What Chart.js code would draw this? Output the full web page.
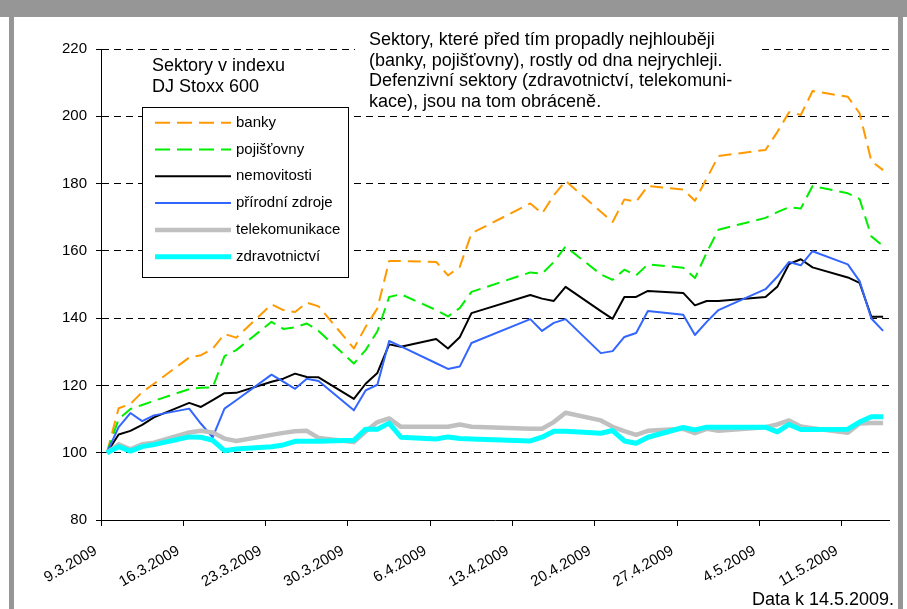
<!DOCTYPE html>
<html><head><meta charset="utf-8">
<script src="https://cdn.jsdelivr.net/npm/chart.js@4"></script>
<style>html,body{margin:0;padding:0;background:#fff}#wrap{width:907px;height:609px;position:relative}</style>
</head><body><div id="wrap"><canvas id="c" width="907" height="609"></canvas></div>
<script>
// trading days (day.month, year 2009)
const dates = ['9.3','10.3','11.3','12.3','13.3','16.3','17.3','18.3','19.3','20.3','23.3','24.3','25.3','26.3','27.3',
  '30.3','31.3','1.4','2.4','3.4','6.4','7.4','8.4','9.4','14.4','15.4','16.4','17.4','20.4','21.4','22.4','23.4','24.4',
  '27.4','28.4','29.4','30.4','4.5','5.5','6.5','7.5','8.5','11.5','12.5','13.5','14.5'];
const tickLabels = ['9.3.2009','16.3.2009','23.3.2009','30.3.2009','6.4.2009','13.4.2009','20.4.2009','27.4.2009','4.5.2009','11.5.2009'];
const seriesNames = ['banky','pojišťovny','nemovitosti','přírodní zdroje','telekomunikace','zdravotnictví'];
const banky = [100,113.2,114.5,118,120.5,128.3,129,130.9,135.3,134.2,144.1,142.4,141.8,144.6,143.5,
  131,137.4,142.9,157,157,156.7,152.7,155.2,165.2,174.1,171.1,176.5,180.8,171.6,168.6,175.3,174.6,179.3,
  178.2,174.9,181.5,188.2,190,195.3,201.2,200.4,207.5,205.8,200.9,186.7,184];
const pojistovny = [100,110,113,114.2,115.4,118.9,119.3,119.4,128.7,130.5,138.9,136.8,137.3,138.4,136.2,
  126.5,130.5,136.1,146.3,147.1,142.4,140.5,143,147.8,153.6,153.2,156.7,161.3,153,151.4,154.4,152.7,156,
  155,151.9,159.5,166.3,169.8,171.5,173,172.6,179.3,177.1,175.4,164.3,161.4];
const nemovitosti = [100,105.4,106.5,108.3,110.5,114.8,113.6,115.6,117.7,117.8,121.1,122,123.5,122.5,122.4,
  116,120.5,123.7,132.2,131.5,133.8,131,134.3,141.5,146.9,145.8,145.1,149.3,142.1,139.8,146.3,146.3,148.1,
  147.5,143.8,145.1,145.1,146.3,149.3,156.1,157.5,155.1,152.1,150.5,140.4,140.4];
const prirodniZdroje = [100,107.6,111.8,109.4,111.1,113.1,108.6,104.6,113.1,115.6,123.2,121.1,119,122,121.3,
  112.6,118.5,120.2,133.2,131.6,126.6,124.9,125.6,132.6,139.7,136.2,138.6,139.7,129.6,130.2,134.4,135.6,142.1,
  141,135,138.9,142.4,148.6,152.3,156.7,155.7,159.9,156,151,139.9,136.2];
const telekomunikace = [100,102.5,101,102.5,103,106,106.5,106,104.2,103.5,105.3,105.9,106.4,106.5,104.4,
  103.2,106.3,109.1,110.2,107.7,107.7,107.7,108.4,107.7,107.1,107.1,109.1,111.9,109.6,107.7,106.4,105.3,106.5,
  107.1,105.8,107.1,106.5,107.6,108.4,109.6,107.8,107.3,105.9,108.7,108.8,108.8];
const zdravotnictvi = [100,101.8,100.5,101.8,102.4,104.7,104.6,103.7,100.6,101.1,101.8,102.3,103.4,103.4,103.4,
  103.7,107,107,108.8,104.6,104.1,104.7,104.2,104.1,103.5,104.6,106.4,106.4,105.8,106.6,103.5,102.8,104.6,
  107.5,106.8,107.6,107.6,107.6,106.2,108.4,106.9,106.9,107,109.1,110.7,110.7];
const noteLeft = ['Sektory v indexu','DJ Stoxx 600'];
const noteRight = ['Sektory, které před tím propadly nejhlouběji','(banky, pojišťovny), rostly od dna nejrychleji.',
  'Defenzivní sektory (zdravotnictví, telekomuni-','kace), jsou na tom obráceně.'];
const footNote = 'Data k 14.5.2009.';

const FONT = "'Liberation Sans', Arial, sans-serif";
const start = Date.UTC(2009, 2, 9);
function dayOf(s){ const [d,m] = s.split('.').map(Number); return Math.round((Date.UTC(2009,m-1,d)-start)/86400000); }
function dayOfLabel(s){ const [d,m,y] = s.split('.').map(Number); return Math.round((Date.UTC(y,m-1,d)-start)/86400000); }
const tickDays = tickLabels.map(dayOfLabel);
const lastDay = dayOf(dates[dates.length-1]) + 1;

const styles = [
  {color:'#FF9900', width:2, dash:[13,7]},
  {color:'#00EE00', width:2, dash:[13,7]},
  {color:'#000000', width:2, dash:[]},
  {color:'#3366FF', width:2, dash:[]},
  {color:'#C0C0C0', width:4.5, dash:[]},
  {color:'#00FFFF', width:5, dash:[]}
];
const allSeries = [banky, pojistovny, nemovitosti, prirodniZdroje, telekomunikace, zdravotnictvi];
const datasets = allSeries.map((arr, k) => ({
  label: seriesNames[k],
  data: dates.map((d,i) => ({x: dayOf(d)+0.5, y: arr[i]})),
  borderColor: styles[k].color, borderWidth: styles[k].width, borderDash: styles[k].dash,
  pointRadius: 0, tension: 0, fill: false, order: 6 - k, borderCapStyle:'butt', borderJoinStyle:'round'
}));

const framePlugin = {
  id:'frame',
  beforeDraw(chart){
    const c = chart.ctx;
    c.save(); c.fillStyle='#fff'; c.fillRect(0,0,chart.width,chart.height);
    c.fillStyle='#969696';
    c.fillRect(0,0,chart.width,17);
    c.fillRect(9,17,5,chart.height-17);
    c.fillRect(898,17,5,chart.height-17);
    c.restore();
  },
  afterDraw(chart){
    const c = chart.ctx;
    c.save();
    // annotation box
    c.fillStyle='#fff'; c.fillRect(355,18,407,92);
    c.fillStyle='#000'; c.font = '18px ' + FONT; c.textAlign='left'; c.textBaseline='alphabetic';
    noteRight.forEach((t,i)=>c.fillText(t, 369, 45 + i*20.6));
    noteLeft.forEach((t,i)=>c.fillText(t, 152, 70.7 + i*21.3));
    c.textAlign='right'; c.fillText(footNote, 894, 605);
    // legend
    c.fillStyle='#fff'; c.fillRect(142,107,206,170);
    c.strokeStyle='#000'; c.lineWidth=1; c.strokeRect(142.5,107.5,206,170);
    chart.data.datasets.forEach((ds,i)=>{
      const base = 126.7 + i*26.8;
      const ly = base - 4;
      c.save();
      c.strokeStyle = ds.borderColor; c.lineWidth = ds.borderWidth; c.setLineDash(ds.borderDash.length ? [15,7] : []); c.lineCap='butt';
      c.beginPath(); c.moveTo(155, ly); c.lineTo(231, ly); c.stroke();
      c.restore();
      c.fillStyle='#000'; c.font='15px ' + FONT; c.textAlign='left';
      c.fillText(ds.label, 236, base);
    });
    c.restore();
  }
};

new Chart(document.getElementById('c'), {
  type:'line',
  data:{datasets},
  plugins:[framePlugin],
  options:{
    responsive:false, animation:false, devicePixelRatio:1,
    layout:{padding:{left:0,right:18,top:49,bottom:0}},
    plugins:{legend:{display:false}, tooltip:{enabled:false}},
    scales:{
      x:{type:'linear', min:0, max:lastDay,
        afterBuildTicks:(s)=>{ s.ticks = tickDays.map(v=>({value:v})); },
        afterFit:(s)=>{ s.height = 89; },
        ticks:{autoSkip:false, minRotation:30, maxRotation:30, padding:16, labelOffset:-5, color:'#000',
          font:{size:15, family:FONT}, callback:(v,i)=>tickLabels[i]},
        grid:{drawOnChartArea:false, tickLength:6, tickColor:'#000', tickWidth:1, tickBorderDash:[]},
        border:{display:true, color:'#000', width:1}
      },
      y:{type:'linear', min:80, max:220,
        afterFit:(s)=>{ s.width = 101; },
        ticks:{stepSize:20, padding:9, color:'#000', font:{size:15, family:FONT}},
        grid:{color:'#000', lineWidth:1, tickLength:5, tickColor:'#000', tickWidth:1, tickBorderDash:[]},
        border:{display:true, color:'#000', width:1, dash:[7,5]}
      }
    }
  }
});
</script></body></html>
